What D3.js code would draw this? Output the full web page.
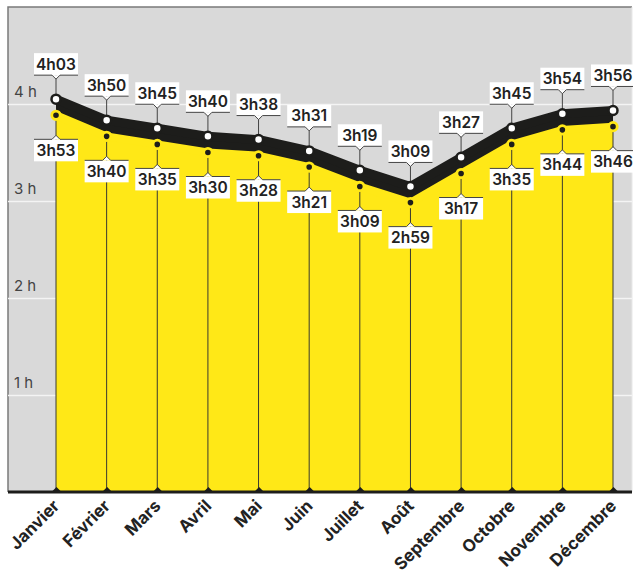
<!DOCTYPE html>
<html>
<head>
<meta charset="utf-8">
<script src="https://cdn.jsdelivr.net/npm/d3@7"></script>
<style>
  html, body { margin: 0; padding: 0; background: #fff; }
  svg { display: block; }
  text { font-family: Inter, "Open Sans", sans-serif; }
</style>
</head>
<body>
<svg id="chart" width="633" height="577"></svg>
<script>
// ---- Data ----
const months = ["Janvier","Février","Mars","Avril","Mai","Juin","Juillet","Août","Septembre","Octobre","Novembre","Décembre"];
// durations in minutes
const upperMinutes = [243, 230, 225, 220, 218, 211, 199, 189, 207, 225, 234, 236];
const lowerMinutes = [233, 220, 215, 210, 208, 201, 189, 179, 197, 215, 224, 226];
const yTickValues = [60, 120, 180, 240];
const yTickLabels = ["1 h", "2 h", "3 h", "4 h"];

// ---- Styles ----
const GRAY_BG = "#d9d9d9";
const YELLOW = "#ffe817";
const BLACK = "#1d1d1b";

const svg = d3.select("#chart");
const pLeft = 8, pRight = 632, pTop = 7, pBottom = 492;

const x = d3.scalePoint().domain(months).range([56, 613]);
const y = d3.scaleLinear().domain([0, 300]).range([pBottom, pTop]);

const fmt = m => Math.floor(m / 60) + "h" + String(m % 60).padStart(2, "0");

const up = months.map((m, i) => ({ m, v: upperMinutes[i] }));
const lo = months.map((m, i) => ({ m, v: lowerMinutes[i] }));

// background
svg.append("rect").attr("x", pLeft).attr("y", pTop).attr("width", pRight - pLeft).attr("height", pBottom - pTop)
  .attr("fill", GRAY_BG);
// border top/left/right
svg.append("path").attr("d", `M${pLeft},${pBottom} V${pTop} H${pRight}`)
  .attr("fill", "none").attr("stroke", "#7a7a7a").attr("stroke-width", 1.5);
svg.append("path").attr("d", `M${pRight},${pTop} V${pBottom}`)
  .attr("fill", "none").attr("stroke", "#e8e8e8").attr("stroke-width", 1);

// y axis gridlines + labels
const yAxis = d3.axisLeft(y).tickValues(yTickValues)
  .tickSize(-(pRight - pLeft)).tickFormat((d, i) => yTickLabels[i]);
const gy = svg.append("g").attr("transform", `translate(${pLeft},0)`).call(yAxis);
gy.select(".domain").remove();
gy.selectAll(".tick line").attr("stroke", "#f4f4f4").attr("stroke-width", 1.5);
gy.selectAll(".tick text").attr("x", 6).attr("dy", -8).attr("text-anchor", "start")
  .attr("fill", "#444").attr("font-size", 15).attr("font-family", "Inter, sans-serif");

// black band between series
const bandArea = d3.area().x(d => x(d.m)).y0((d, i) => y(lowerMinutes[i])).y1(d => y(d.v));
svg.append("path").datum(up).attr("d", bandArea).attr("fill", BLACK);
const line = d3.line().x(d => x(d.m)).y(d => y(d.v));
svg.append("path").datum(up).attr("d", line).attr("fill", "none").attr("stroke", BLACK).attr("stroke-width", 9);

// yellow area
const yArea = d3.area().x(d => x(d.m)).y0(y(0)).y1(d => y(d.v));
svg.append("path").datum(lo).attr("d", yArea).attr("fill", YELLOW);
svg.append("path").datum(lo).attr("d", line).attr("fill", "none").attr("stroke", YELLOW).attr("stroke-width", 8);

// vertical month lines (lower dot to baseline)
svg.append("g").selectAll("line").data(lo).join("line")
  .attr("x1", d => x(d.m)).attr("x2", d => x(d.m))
  .attr("y1", d => y(d.v)).attr("y2", y(0))
  .attr("stroke", "#3a3a30").attr("stroke-width", 1);
// upper connector lines
svg.append("g").selectAll("line").data(up).join("line")
  .attr("x1", d => x(d.m)).attr("x2", d => x(d.m))
  .attr("y1", d => y(d.v) - 24).attr("y2", d => y(d.v))
  .attr("stroke", "#444").attr("stroke-width", 1);

// x axis (baseline)
const xAxis = d3.axisBottom(x).tickSize(0).tickPadding(0);
const gx = svg.append("g").attr("transform", `translate(0,${y(0)})`).call(xAxis);
gx.select(".domain").attr("d", `M${pLeft},0H${pRight}`).attr("stroke", BLACK).attr("stroke-width", 3);
gx.selectAll(".tick text")
  .attr("y", 0).attr("dy", 0)
  .attr("transform", "translate(4,15) rotate(-45)")
  .attr("text-anchor", "end")
  .attr("fill", "#222").attr("font-size", 17).attr("font-weight", 700)
  .attr("font-family", "Inter, sans-serif");
// small triangles on baseline
gx.selectAll(".tick").append("path").attr("d", "M-5,0 L0,-5 L5,0 Z").attr("fill", BLACK);

// dots
svg.append("g").selectAll("circle").data(up).join("circle")
  .attr("cx", d => x(d.m)).attr("cy", d => y(d.v)).attr("r", 4.5)
  .attr("fill", "#fff").attr("stroke", BLACK).attr("stroke-width", 2.5);
svg.append("g").selectAll("circle").data(lo).join("circle")
  .attr("cx", d => x(d.m)).attr("cy", d => y(d.v)).attr("r", 4.2)
  .attr("fill", BLACK).attr("stroke", YELLOW).attr("stroke-width", 2.8);

// labels
const BW = 44, BH = 22, OFF = 35;
function label(g, d, isUpper) {
  const cx = x(d.m);
  const cy = y(d.v) + (isUpper ? -OFF : OFF);
  g.append("rect").attr("x", cx - BW / 2).attr("y", cy - BH / 2).attr("width", BW).attr("height", BH).attr("fill", "#fff");
  const e = isUpper ? cy + BH / 2 : cy - BH / 2;
  const s = isUpper ? 4 : -4;
  g.append("path")
    .attr("d", `M${cx - BW / 2},${e} H${cx - 4} L${cx},${e + s} L${cx + 4},${e} H${cx + BW / 2}`)
    .attr("fill", "#fff").attr("stroke", "#444").attr("stroke-width", 1);
  g.append("text").attr("x", cx).attr("y", cy).attr("dy", "0.36em").attr("text-anchor", "middle")
    .attr("font-size", 15.5).attr("font-weight", 600).attr("fill", "#222")
    .text(fmt(d.v));
}
const lg = svg.append("g");
up.forEach(d => label(lg.append("g"), d, true));
lo.forEach(d => label(lg.append("g"), d, false));
</script>
</body>
</html>
